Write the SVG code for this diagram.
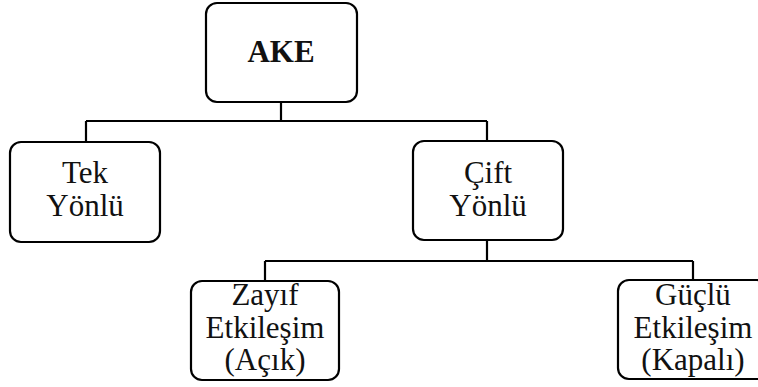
<svg xmlns="http://www.w3.org/2000/svg" width="758" height="387" viewBox="0 0 758 387">
<style>
.box{fill:#fff;stroke:#000;stroke-width:2.2}
.t{font-family:"Liberation Serif","Times New Roman",serif;font-size:31px;fill:#111;text-anchor:middle}
.b{font-weight:bold;font-size:31px}
.c{fill:none;stroke:#000;stroke-width:2.2}
</style>
<rect width="758" height="387" fill="#fff"/>
<g id="connectors">
<path class="c" d="M281 102 V121 M86 121 H487 M86 121 V142 M487 121 V141"/>
<path class="c" d="M487 240 V261 M265 261 H693 M265 261 V281 M693 261 V280"/>
</g>
<g id="ake">
<rect class="box" x="206" y="3" width="151" height="99" rx="11"/>
<text class="t b" x="281" y="62">AKE</text>
</g>
<g id="tek">
<rect class="box" x="10" y="142" width="150" height="100" rx="11"/>
<text class="t" x="85" y="183">Tek</text>
<text class="t" x="85" y="216">Yönlü</text>
</g>
<g id="cift">
<rect class="box" x="413" y="141" width="150" height="99" rx="11"/>
<text class="t" x="488" y="183">Çift</text>
<text class="t" x="488" y="216">Yönlü</text>
</g>
<g id="zayif">
<rect class="box" x="191" y="281" width="148" height="99" rx="11"/>
<text class="t" x="265" y="305">Zayıf</text>
<text class="t" x="265" y="338">Etkileşim</text>
<text class="t" x="265" y="370">(Açık)</text>
</g>
<g id="guclu">
<rect class="box" x="618" y="280" width="150" height="99" rx="11"/>
<text class="t" x="693" y="305">Güçlü</text>
<text class="t" x="693" y="338">Etkileşim</text>
<text class="t" x="693" y="370">(Kapalı)</text>
</g>
</svg>
